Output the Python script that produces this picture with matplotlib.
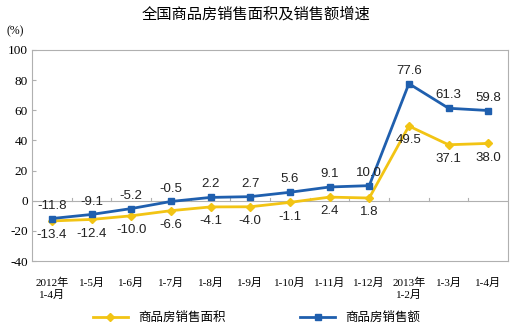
import matplotlib
matplotlib.use("Agg")
import matplotlib.pyplot as plt

plt.rcParams['font.family'] = ['Liberation Sans', 'Noto Sans CJK SC', 'DejaVu Sans']

categories = ["2012年\n1-4月", "1-5月", "1-6月", "1-7月", "1-8月", "1-9月", "1-10月",
              "1-11月", "1-12月", "2013年\n1-2月", "1-3月", "1-4月"]
area = [-13.4, -12.4, -10.0, -6.6, -4.1, -4.0, -1.1, 2.4, 1.8, 49.5, 37.1, 38.0]
sales = [-11.8, -9.1, -5.2, -0.5, 2.2, 2.7, 5.6, 9.1, 10.0, 77.6, 61.3, 59.8]
yticks = [-40, -20, 0, 20, 40, 60, 80, 100]

blue = "#1f5fae"
yellow = "#f2c414"
serif = ['Liberation Serif', 'Noto Sans CJK SC']

fig = plt.figure(figsize=(5.13, 3.28), dpi=100)
ax = fig.add_axes([0.0624, 0.204, 0.928, 0.644])

x = list(range(len(categories)))
ax.plot(x, area, color=yellow, marker="D", markersize=4, linewidth=2, label="商品房销售面积")
ax.plot(x, sales, color=blue, marker="s", markersize=5, linewidth=2, label="商品房销售额")

for i in x:
    ax.annotate(f"{sales[i]:.1f}", (i, sales[i]), xytext=(0, 5), textcoords="offset points",
                ha="center", va="bottom", fontsize=9.5, color="#222222")
    ax.annotate(f"{area[i]:.1f}", (i, area[i]), xytext=(0, -6), textcoords="offset points",
                ha="center", va="top", fontsize=9.5, color="#222222")

ax.axhline(0, color="#b0b0b0", linewidth=0.8, zorder=0)
for b in [i + 0.5 for i in x[:-1]]:
    ax.plot([b, b], [0, 1.5], color="#b0b0b0", linewidth=0.8, zorder=0)

ax.set_xlim(-0.5, len(categories) - 0.5)
ax.set_ylim(-40, 100)
ax.set_yticks(yticks)
ax.set_yticklabels([str(v) for v in yticks], fontsize=9.5, family=serif)
ax.set_xticks(x)
ax.set_xticklabels(categories, fontsize=8, family=serif, linespacing=1.25)
ax.tick_params(axis="x", length=0, pad=12)
ax.tick_params(axis="y", length=3, direction="in", pad=3, colors="#b0b0b0", labelcolor="black")
for s in ax.spines.values():
    s.set_color("#b0b0b0")
    s.set_linewidth(0.8)

fig.text(0.5, 0.955, "全国商品房销售面积及销售额增速", ha="center", va="center", fontsize=11)
fig.text(0.012, 0.905, "(%)", ha="left", va="center", fontsize=8.5, family=serif)

fig.legend(loc="center", bbox_to_anchor=(0.5, 0.03), ncol=2, frameon=False, fontsize=9,
           handlelength=2.8, columnspacing=6, borderaxespad=0)

fig.savefig("out.png", dpi=100)
